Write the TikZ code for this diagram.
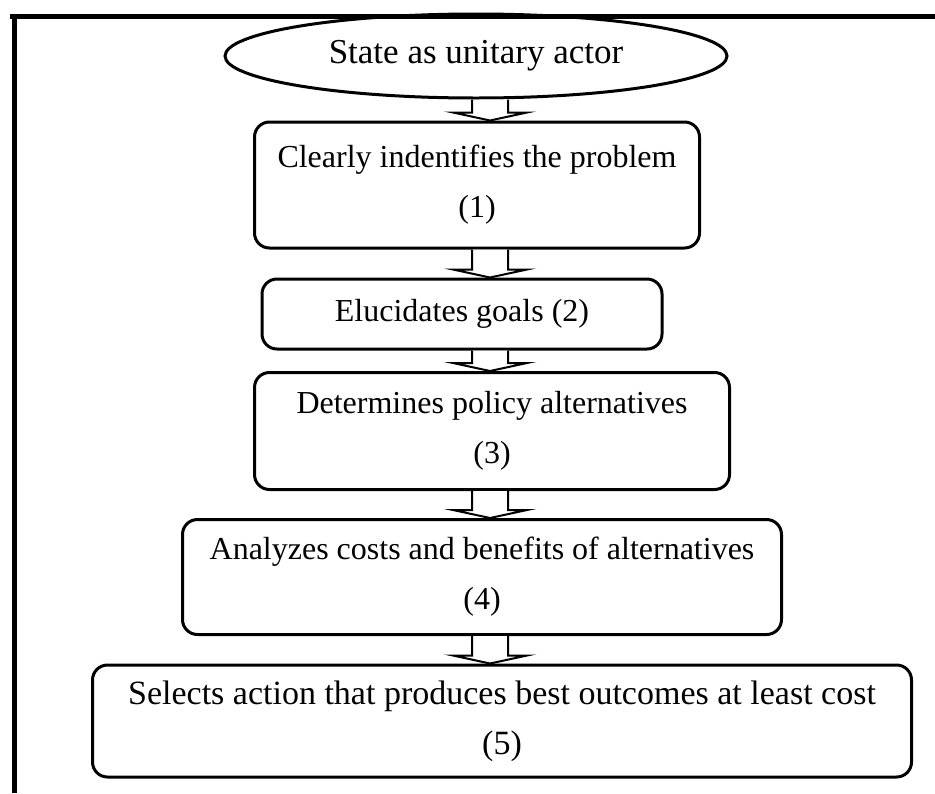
\documentclass[tikz,border=0pt]{standalone}
\usepackage{fontspec}
\setmainfont{Liberation Serif}
\usetikzlibrary{shapes.geometric,% ellipse node for the actor
calc}
\tikzset{every node/.style={font=\fontsize{16}{25}\selectfont}}
\tikzset{
  stepbox/.style={draw, line width=1.5pt, rounded corners=7.5pt, align=center, inner sep=0pt},
  flowarr/.style={line width=1pt, fill=white}
}
% hollow block arrow from node #1 down to node #2
\newcommand\blockarrow[2]{%
  \draw[flowarr] ($(#1.south -| axis)+(-18,0)$) -- ($(#2.north -| axis)+(-18,-8)$)
    -- ($(#2.north -| axis)+(-37,-8)$) -- (#2.north -| axis)
    -- ($(#2.north -| axis)+(37,-8)$) -- ($(#2.north -| axis)+(18,-8)$)
    -- ($(#1.south -| axis)+(18,0)$);}

\begin{document}
\begin{tikzpicture}[x=0.5pt, y=-0.5pt]
  \useasboundingbox (0,0) rectangle (935,793);
  \coordinate (axis) at (490,0);
  \node[draw, ellipse, line width=1.5pt, minimum width=251pt, minimum height=42pt, inner sep=0pt,
        font=\fontsize{17.5}{25}\selectfont] (actor) at (476,56) {State as unitary actor};
  \node[stepbox, minimum width=222.5pt, minimum height=63pt] (problem) at (477,185) {Clearly indentifies the problem\\(1)};
  \node[stepbox, minimum width=200pt, minimum height=35pt] (goals) at (462,314) {Elucidates goals (2)};
  \node[stepbox, minimum width=237.5pt, minimum height=58.5pt] (options) at (492,431) {Determines policy alternatives\\(3)};
  \node[stepbox, minimum width=299.5pt, minimum height=57.5pt] (analysis) at (482,577) {Analyzes costs and benefits of alternatives\\(4)};
  \node[stepbox, minimum width=409.5pt, minimum height=56pt,
        font=\fontsize{17}{25}\selectfont] (choice) at (502,721) {Selects action that produces best outcomes at least cost\\(5)};
  \blockarrow{actor}{problem}
  \blockarrow{problem}{goals}
  \blockarrow{goals}{options}
  \blockarrow{options}{analysis}
  \blockarrow{analysis}{choice}
  % frame
  \draw[line width=2.5pt] (10,16) -- (935,16);
  \draw[line width=2.5pt] (14,14) -- (14,793);
\end{tikzpicture}
\end{document}
